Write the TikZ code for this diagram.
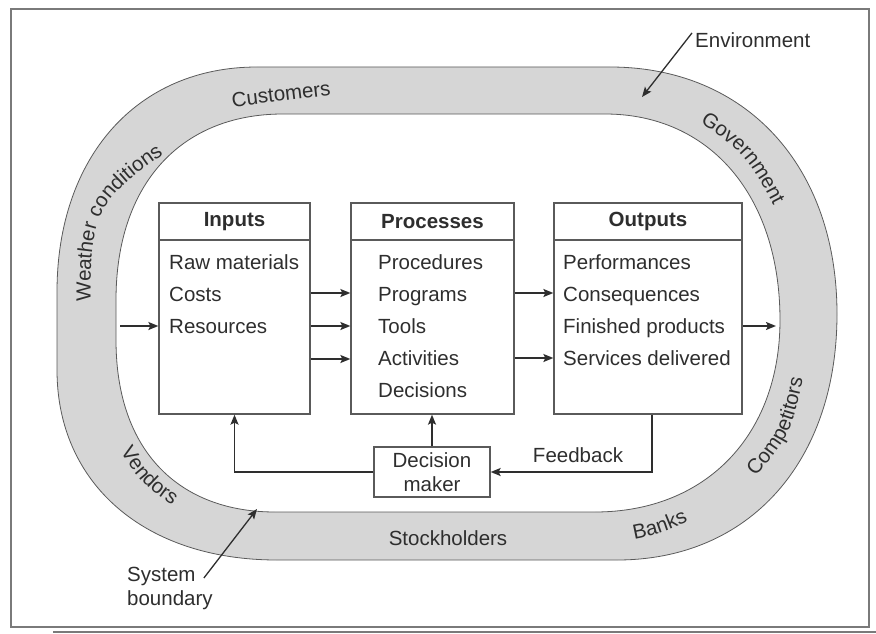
\documentclass[tikz,border=0pt]{standalone}
\usepackage{fontspec}
\setmainfont{Liberation Sans}
\usetikzlibrary{arrows.meta,calc,decorations.text}
\definecolor{ringgray}{HTML}{D6D6D6}
\definecolor{ink}{HTML}{2E2E2E}
\definecolor{edge}{HTML}{5A5A5A}
\definecolor{framec}{HTML}{7A7A7A}
\newcommand{\ringfont}{\fontsize{20.5}{24}\selectfont\color{ink}}
\begin{document}
\begin{tikzpicture}[x=1pt,y=-1pt,
  every node/.style={font=\fontsize{20.5}{24}\selectfont, text=ink, inner sep=0pt},
  boxhead/.style={draw=edge, line width=1.3pt, minimum height=37pt, font=\fontsize{20.5}{24}\selectfont\bfseries},
  boxbody/.style={draw=edge, line width=1.3pt, minimum height=174pt},
  item/.style={anchor=base west},
  ringlbl/.style={text=ink},
  curvedlbl/.style={decorate, decoration={text along path, text align=center, text={|\ringfont|#1}}},
  arr/.style={draw=ink, line width=1.6pt, -{Stealth[length=10pt,width=8pt,inset=2pt]}},
  link/.style={draw=ink, line width=1.6pt}
]
\useasboundingbox (0,0) rectangle (876,634);
% frame
\draw[framec, line width=1.2pt] (11,9) rectangle (869,627);
\draw[framec, line width=1.2pt] (53,632) -- (876,632);

% ring (environment / system boundary)
\fill[ringgray, even odd rule]
  (257,67) -- (610,67) .. controls (746,67) and (837,166) .. (837,314)
  .. controls (837,462) and (749,560) .. (617,560) -- (277,560)
  .. controls (145,560) and (57,484) .. (57,370) -- (57,292)
  .. controls (57,157) and (137,67) .. (257,67) -- cycle
  (283,114) -- (605,114) .. controls (710,114) and (780,196) .. (780,320)
  .. controls (780,435) and (706,512) .. (595,512) -- (275,512)
  .. controls (180,512) and (116,452) .. (116,340) -- (116,300)
  .. controls (116,185) and (180,114) .. (283,114) -- cycle;
\draw[edge, line width=0.8pt]
  (257,67) -- (610,67) .. controls (746,67) and (837,166) .. (837,314)
  .. controls (837,462) and (749,560) .. (617,560) -- (277,560)
  .. controls (145,560) and (57,484) .. (57,370) -- (57,292)
  .. controls (57,157) and (137,67) .. (257,67) -- cycle;
\draw[edge, line width=0.8pt]
  (283,114) -- (605,114) .. controls (710,114) and (780,196) .. (780,320)
  .. controls (780,435) and (706,512) .. (595,512) -- (275,512)
  .. controls (180,512) and (116,452) .. (116,340) -- (116,300)
  .. controls (116,185) and (180,114) .. (283,114) -- cycle;

% ring labels
\node[ringlbl, rotate=7] (cust) at (281,94) {Customers};
\path[curvedlbl={Weather conditions}] (91,338) .. controls (89,204) .. (194,134);
\path[curvedlbl={Government}] (683,111) .. controls (747,154) .. (783,224);
\path[curvedlbl={Competitors}] (741,493) .. controls (792,435) .. (807,357);
\path[curvedlbl={Banks}] (614,543) .. controls (662,534) .. (707,513);
\path[curvedlbl={Vendors}] (110,434) .. controls (140,484) .. (189,517);
\node[ringlbl] (stock) at (448,538) {Stockholders};

% boxes
\node[boxhead, minimum width=151pt] (inh) at (234.5,221.5) {Inputs};
\node[boxbody, minimum width=151pt] (inb) at (234.5,327) {};
\node[boxhead, minimum width=163pt] (prh) at (432.5,221.5) {Processes};
\node[boxbody, minimum width=163pt] (prb) at (432.5,327) {};
\node[boxhead, minimum width=188pt] (outh) at (648,221.5) {Outputs};
\node[boxbody, minimum width=188pt] (outb) at (648,327) {};

% items
\node[item] (i1) at (169,269) {Raw materials};
\node[item] (i2) at (169,301) {Costs};
\node[item] (i3) at (169,333) {Resources};
\node[item] (p1) at (378,269) {Procedures};
\node[item] (p2) at (378,301) {Programs};
\node[item] (p3) at (378,333) {Tools};
\node[item] (p4) at (378,365) {Activities};
\node[item] (p5) at (378,397) {Decisions};
\node[item] (o1) at (563,269) {Performances};
\node[item] (o2) at (563,301) {Consequences};
\node[item] (o3) at (563,333) {Finished products};
\node[item] (o4) at (563,365) {Services delivered};

% decision maker
\node[draw=edge, line width=1.3pt, minimum width=116pt, minimum height=50pt, align=center] (dm) at (432,472) {Decision\\maker};
\node[anchor=base] (fb) at (578,462) {Feedback};

% flow arrows
\coordinate (inl) at (120,326);
\coordinate (outr) at (776,326);
\draw[arr] (inl) -- (inb.west |- inl);
\draw[arr] (inb.east |- 0,293) -- (prb.west |- 0,293);
\draw[arr] (inb.east |- 0,326) -- (prb.west |- 0,326);
\draw[arr] (inb.east |- 0,359) -- (prb.west |- 0,359);
\draw[arr] (prb.east |- 0,293) -- (outb.west |- 0,293);
\draw[arr] (prb.east |- 0,358) -- (outb.west |- 0,358);
\draw[arr] (outb.east |- outr) -- (outr);
\draw[arr] (dm.west) -| (inb.south);
\draw[arr] (dm.north) -- (dm.north |- prb.south);
\draw[arr] ($(outb.south)+(4,0)$) |- (dm.east);

% callouts
\node[anchor=base west] (env) at (695,48) {Environment};
\coordinate (envtip) at (642,97);
\draw[arr, line width=1.3pt] ([xshift=-3pt]env.north west) -- (envtip);
\node[anchor=north west, align=left] (sysb) at (127,567) {System\\boundary};
\coordinate (systip) at (257,509);
\draw[arr, line width=1.3pt] ($(sysb.north east)+(-9,11)$) -- (systip);
\end{tikzpicture}
\end{document}
